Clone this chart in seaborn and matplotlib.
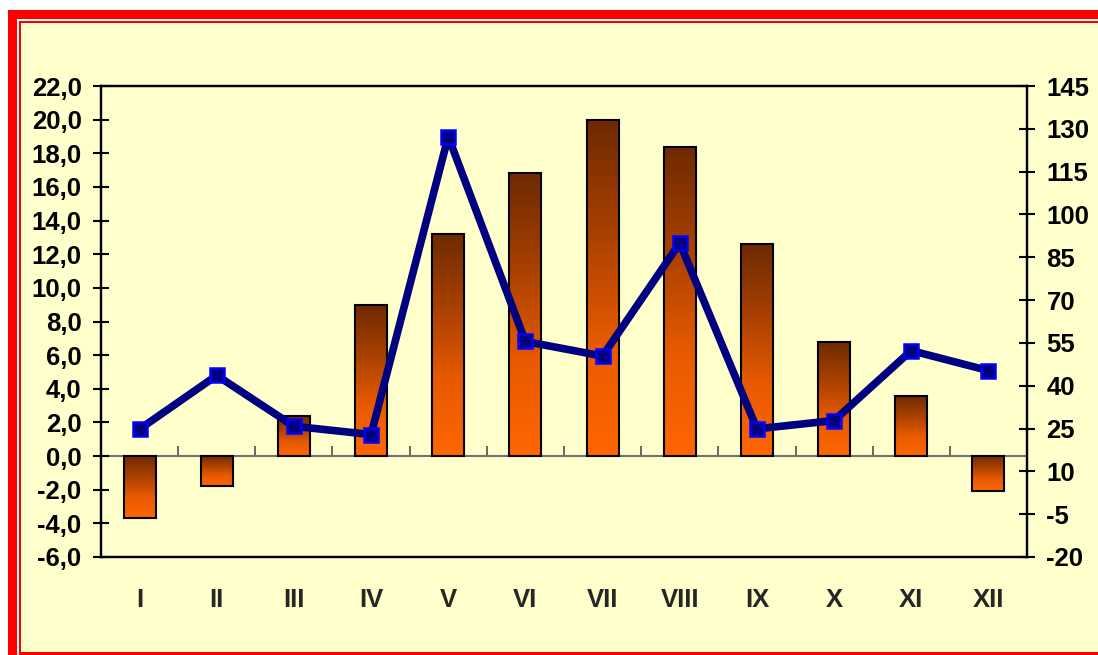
import numpy as np
import matplotlib
matplotlib.use("Agg")
import matplotlib.pyplot as plt
from matplotlib.patches import Rectangle
from matplotlib.colors import LinearSegmentedColormap
import seaborn as sns

months = ["I", "II", "III", "IV", "V", "VI", "VII", "VIII", "IX", "X", "XI", "XII"]
bar_values = [-3.7, -1.8, 2.4, 9.0, 13.2, 16.8, 20.0, 18.4, 12.6, 6.8, 3.6, -2.1]
line_values = [24.8, 43.6, 25.8, 22.9, 127.3, 55.5, 50.4, 90.0, 24.9, 27.8, 52.3, 45.3]
left_ticks = np.arange(-6, 23, 2)
right_ticks = np.arange(-20, 146, 15)

sns.set_style("ticks")
plt.rcParams['font.family'] = ['Liberation Sans', 'DejaVu Sans']

W, H = 1098, 655
fig = plt.figure(figsize=(W / 100, H / 100), dpi=100, facecolor="white")

def frame_rect(left, top, right, bottom, color):
    # pixel box (from top-left) -> figure fraction rectangle
    fig.patches.append(Rectangle((left / W, 1 - bottom / H), (right - left) / W, (bottom - top) / H,
                                 transform=fig.transFigure, facecolor=color, edgecolor="none", zorder=-10))

frame_rect(8, 10, 1120, 680, "#FF0000")
frame_rect(17, 19, 1120, 680, "white")
frame_rect(19, 21, 1120, 654.5, "#FF0000")
frame_rect(21, 23, 1120, 652, "#FFFFCC")

ax = fig.add_axes([101 / W, 1 - 557 / H, 926 / W, 471 / H])
ax.set_facecolor("#FFFFCC")

sns.barplot(x=months, y=bar_values, ax=ax, color="#FF6600", width=0.415,
            edgecolor="black", linewidth=1.5, zorder=3)

# gradient fill for each bar: dark brown at top, orange at bottom
grad_cmap = LinearSegmentedColormap.from_list("brn", ["#FF6600", "#E85A00", "#A84000", "#6E2A00"])
grad = np.linspace(0, 1, 256).reshape(-1, 1)
for p in ax.patches:
    x0, y0 = p.get_x(), p.get_y()
    w, h = p.get_width(), p.get_height()
    lo, hi = min(y0, y0 + h), max(y0, y0 + h)
    im = ax.imshow(grad, cmap=grad_cmap, origin="lower", aspect="auto",
                   extent=[x0, x0 + w, lo, hi], zorder=2)
    im.set_clip_path(p)
    p.set_facecolor("none")

ax.set_xlim(-0.5, len(months) - 0.5)
ax.set_ylim(-6, 22)
ax.set_yticks(left_ticks)
ax.set_yticklabels([f"{v:.1f}".replace(".", ",") for v in left_ticks],
                   fontsize=18.5, fontweight="bold")
ax.set_xticks(range(len(months)))
ax.set_xticklabels(months, fontsize=18.5, fontweight="bold")
ax.tick_params(axis="x", length=0, pad=22)
ax.tick_params(axis="y", direction="inout", length=12, width=1.5, colors="black", pad=8)
ax.set_xlabel("")
ax.set_ylabel("")
for s in ax.spines.values():
    s.set_color("black")
    s.set_linewidth(1.6)

# category axis crossing at zero
zero_pos = (0 - ax.get_ylim()[0]) / (ax.get_ylim()[1] - ax.get_ylim()[0])
sec = ax.secondary_xaxis(zero_pos)
sec.set_xticks(np.arange(0.5, len(months) - 1, 1))
sec.set_xticklabels([])
sec.tick_params(axis="x", direction="in", length=7, width=1.2, color="#505050")
sec.spines["bottom"].set_color("#707070")
sec.spines["bottom"].set_linewidth(1.5)

ax2 = ax.twinx()
sns.pointplot(x=months, y=line_values, ax=ax2, color="#000080", markers="s",
              errorbar=None, linewidth=5.5, markersize=10,
              markeredgecolor="#0000FF", markeredgewidth=1.8)
ax2.set_ylim(-20, 145)
ax2.set_yticks(right_ticks)
ax2.set_yticklabels([str(v) for v in right_ticks], fontsize=18.5, fontweight="bold")
ax2.tick_params(axis="y", direction="inout", length=12, width=1.5, colors="black", pad=8)
ax2.set_xlim(-0.5, len(months) - 0.5)
ax2.set_ylabel("")
for s in ax2.spines.values():
    s.set_color("black")
    s.set_linewidth(1.6)

fig.savefig("out.png", dpi=100, facecolor=fig.get_facecolor())
